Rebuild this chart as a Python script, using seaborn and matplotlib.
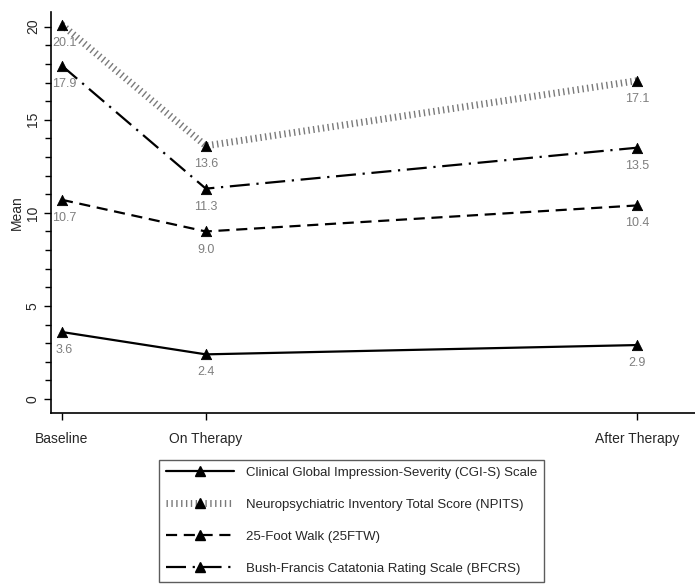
import seaborn as sns
import matplotlib.pyplot as plt
import pandas as pd

# time points (x position in arbitrary time units)
timepoints = ["Baseline", "On Therapy", "After Therapy"]
time_pos = [0, 1, 4]

cgis = [3.6, 2.4, 2.9]
npits = [20.1, 13.6, 17.1]
ftw = [10.7, 9.0, 10.4]
bfcrs = [17.9, 11.3, 13.5]

names = ["Clinical Global Impression-Severity (CGI-S) Scale",
         "Neuropsychiatric Inventory Total Score (NPITS)",
         "25-Foot Walk (25FTW)",
         "Bush-Francis Catatonia Rating Scale (BFCRS)"]

rows = []
for name, vals in zip(names, [cgis, npits, ftw, bfcrs]):
    for t, v in zip(time_pos, vals):
        rows.append({"measure": name, "time": t, "mean": v})
df = pd.DataFrame(rows)

sns.set_style("ticks")
plt.rcParams["font.family"] = ["Liberation Sans", "DejaVu Sans"]

fig = plt.figure(figsize=(6.95, 5.88), dpi=100)
ax = fig.add_axes([0.0734, 0.2976, 0.9266, 0.6824])

line_styles = {
    names[0]: dict(ls="-", lw=1.6, color="black"),
    names[1]: dict(ls=(0, (0.2, 0.5)), lw=5, color="#7a7a7a"),
    names[2]: dict(ls=(0, (5, 3)), lw=1.6, color="black"),
    names[3]: dict(ls=(0, (9, 3, 1, 3)), lw=1.6, color="black"),
}

for name in names:
    sub = df[df["measure"] == name]
    st = line_styles[name]
    sns.lineplot(data=sub, x="time", y="mean", ax=ax, color=st["color"],
                 linestyle=st["ls"], linewidth=st["lw"], legend=False)
    sns.scatterplot(data=sub, x="time", y="mean", ax=ax, marker="^",
                    color="black", s=55, edgecolor="black", zorder=5,
                    legend=False)
    for t, v in zip(sub["time"], sub["mean"]):
        ax.annotate(f"{v:.1f}", (t, v), xytext=(1.5 if t == 0 else 0, -13),
                    textcoords="offset points", ha="center", va="center",
                    fontsize=9, color="#7f7f7f")

handles = []
for name in names:
    st = line_styles[name]
    h, = ax.plot([], [], color=st["color"], linestyle=st["ls"],
                 linewidth=st["lw"], marker="^", markersize=6.5,
                 markerfacecolor="black", markeredgecolor="black")
    handles.append(h)
leg = fig.legend(handles, names, loc="upper left",
                 bbox_to_anchor=(0.229, 0.2177), frameon=True, fancybox=False,
                 fontsize=9.5, handlelength=5.2, labelspacing=1.5,
                 borderpad=0.5, borderaxespad=0, handletextpad=0.9)
leg.get_frame().set_edgecolor("#333333")
leg.get_frame().set_linewidth(1.0)

ax.set_xlim(-0.076, 4.4)
ax.set_ylim(-0.75, 20.8)
ax.set_xticks(time_pos)
ax.set_xticklabels(timepoints, fontsize=10)
ax.set_yticks([0, 5, 10, 15, 20])
ax.set_yticks(range(0, 21), minor=True)
ax.set_yticklabels(["0", "5", "10", "15", "20"], rotation=90, va="center",
                   fontsize=10)
ax.tick_params(axis="both", which="major", length=5, width=1, color="black")
ax.tick_params(axis="x", which="major", pad=9)
ax.tick_params(axis="y", which="major", pad=3)
ax.tick_params(axis="y", which="minor", length=4, width=1, color="black")
ax.set_xlabel("")
ax.set_ylabel("Mean", fontsize=10, labelpad=1.5)
for s in ["left", "bottom"]:
    ax.spines[s].set_color("black")
    ax.spines[s].set_linewidth(1.2)
sns.despine(ax=ax)

fig.savefig("out.png", dpi=100)
